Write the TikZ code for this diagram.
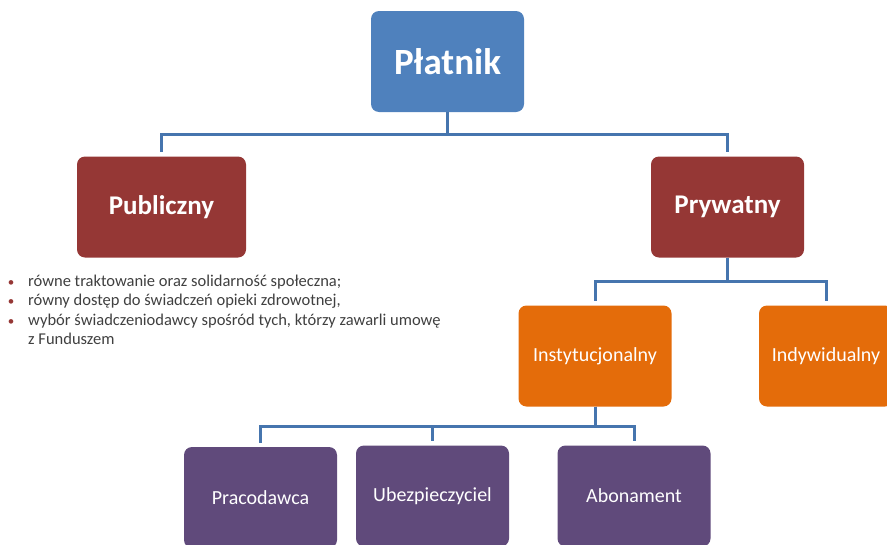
\documentclass[tikz,border=0pt]{standalone}
\usepackage{fontspec}
\setmainfont{Carlito}
\definecolor{topblue}{HTML}{4F81BD}
\definecolor{lvlred}{HTML}{953735}
\definecolor{lvlorange}{HTML}{E46C0A}
\definecolor{lvlpurple}{HTML}{604A7B}
\definecolor{connblue}{HTML}{4675AE}
\definecolor{bodytext}{HTML}{404040}
\tikzset{
  box/.style={draw=none, rounded corners=8pt, inner sep=0pt, text=white,
    minimum width=153pt, minimum height=101pt, align=center},
  topbox/.style={box, fill=topblue, font=\bfseries\fontsize{37}{41}\selectfont},
  redbox/.style={box, fill=lvlred, font=\bfseries\fontsize{27}{31}\selectfont},
  orangebox/.style={box, fill=lvlorange, font=\fontsize{20}{24}\selectfont},
  purplebox/.style={box, fill=lvlpurple, font=\fontsize{20}{24}\selectfont},
  conn/.style={draw=connblue, line width=3pt, shorten >=4pt},
  bulletline/.style={anchor=base west, inner sep=0pt, text=bodytext,
    font=\fontsize{16.5}{19}\selectfont},
  bulletmark/.style={anchor=base, inner sep=0pt, text=lvlred,
    font=\fontsize{13}{16}\selectfont},
}
\begin{document}
\begin{tikzpicture}[x=1pt, y=-1pt]
  \useasboundingbox (0,0) rectangle (887,544);
  \clip (0,0) rectangle (887,544);

  % boxes
  \node[topbox] (platnik) at (447.5,61.5) {Płatnik};
  \node[redbox, minimum width=169pt] (publ) at (161.5,207) {Publiczny};
  \node[redbox] (pryw) at (727.5,207) {Prywatny};
  \node[orangebox] (inst) at (595,356) {Instytucjonalny};
  \node[orangebox, minimum width=134pt] (indyw) at (826,356) {Indywidualny};
  \node[purplebox] (prac) at (260.5,497.5) {Pracodawca};
  \node[purplebox] (ubez) at (432.5,496) {Ubezpieczyciel};
  \node[purplebox] (abon) at (634,496) {Abonament};

  % horizontal bus levels
  \coordinate (busA) at (0,134);
  \coordinate (busB) at (0,281);
  \coordinate (busC) at (0,426);

  % connectors
  \draw[conn] (platnik.south) -- (platnik.south |- busA) -| (publ.north);
  \draw[conn] (platnik.south) -- (platnik.south |- busA) -| (pryw.north);
  \draw[conn] (pryw.south) -- (pryw.south |- busB) -| (inst.north);
  \draw[conn] (pryw.south) -- (pryw.south |- busB) -| (indyw.north);
  \draw[conn] (inst.south) -- (inst.south |- busC) -| (prac.north);
  \draw[conn] (inst.south) -- (inst.south |- busC) -| (ubez.north);
  \draw[conn] (inst.south) -- (inst.south |- busC) -| (abon.north);

  % bullet list
  \node[bulletmark] (b1) at (11,286) {•};
  \node[bulletmark] (b2) at (11,305.5) {•};
  \node[bulletmark] (b3) at (11,325) {•};
  \node[bulletline] (l1) at (28,286) {równe traktowanie oraz solidarność społeczna;};
  \node[bulletline] (l2) at (28,305.5) {równy dostęp do świadczeń opieki zdrowotnej,};
  \node[bulletline] (l3) at (28,325) {wybór świadczeniodawcy spośród tych, którzy zawarli umowę};
  \node[bulletline] (l4) at (28,344.5) {z Funduszem};
\end{tikzpicture}
\end{document}
